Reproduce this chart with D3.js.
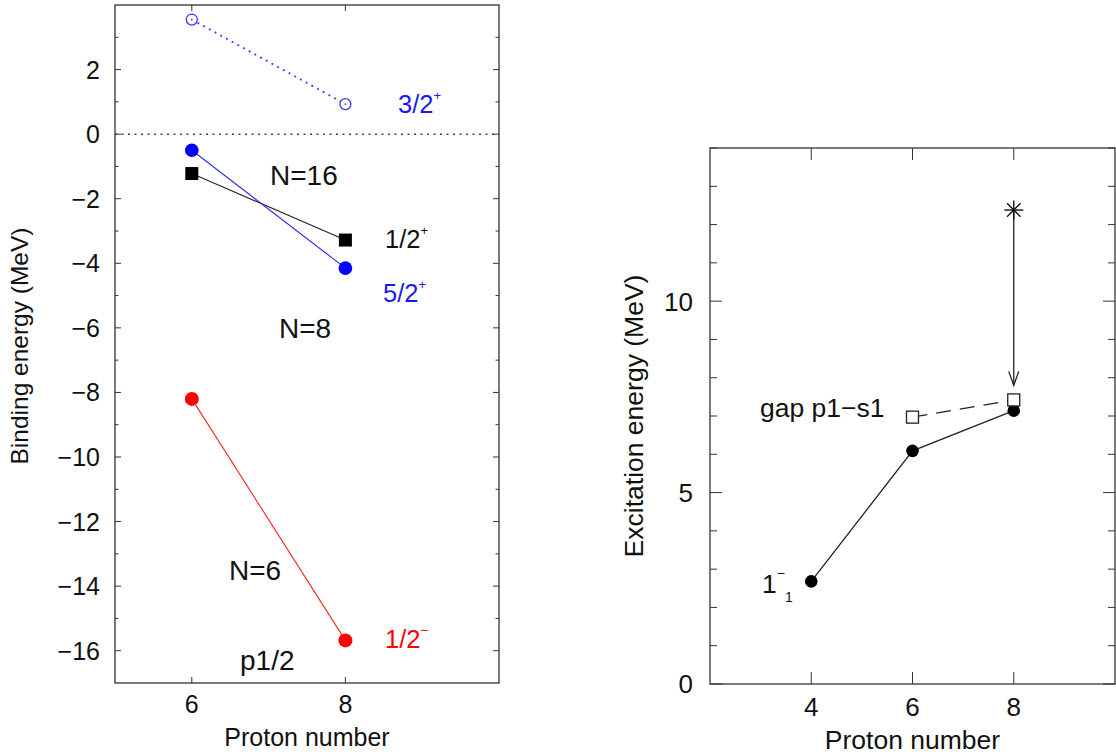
<!DOCTYPE html>
<html>
<head>
<meta charset="utf-8">
<script src="https://cdn.jsdelivr.net/npm/d3@7"></script>
<style>
  html, body { margin: 0; padding: 0; background: #fff; }
  svg { display: block; font-family: "Liberation Sans", Arial, sans-serif; }
</style>
</head>
<body>
<svg id="chart" width="1116" height="755"></svg>
<script>
// ---- Left panel: single-particle binding energies ----
const protonsLeft = [6, 8];
const state32plus = [3.55, 0.93];    // 3/2+ (open circles, dotted)
const state52plus = [-0.5, -4.15];   // 5/2+ (blue filled circles)
const state12plus = [-1.22, -3.28];  // 1/2+ (black squares)
const state12minus = [-8.2, -15.68]; // 1/2- (red filled circles)
const leftYTicks = [-16, -14, -12, -10, -8, -6, -4, -2, 0, 2];
const leftXTicks = [6, 8];

// ---- Right panel: excitation energies ----
const protonsRight = [4, 6, 8];
const excit1minus = [2.68, 6.09, 7.14];
const gapProtons = [6, 8];
const gapP1S1 = [6.97, 7.42];
const starPoint = { x: 8, y: 12.38 };
const arrowEnd = 7.8;
const rightYTicks = [0, 5, 10];
const rightXTicks = [4, 6, 8];

const svg = d3.select("#chart");
const frameColor = "#333";
const textColor = "#111";

function frame(g, x, y) {
  const [x0, x1] = x.range(), [y0, y1] = y.range();
  g.append("rect").attr("x", x0).attr("y", y1).attr("width", x1 - x0).attr("height", y0 - y1)
    .attr("fill", "none").attr("stroke", frameColor).attr("stroke-width", 1.3);
}

function ticks(g, x, y, opt) {
  const [x0, x1] = x.range(), [y0, y1] = y.range();
  opt.yMinor.forEach(v => {
    const len = opt.yMajor.includes(v) ? opt.majLen : opt.minLen;
    g.append("line").attr("x1", x0).attr("x2", x0 + len).attr("y1", y(v)).attr("y2", y(v)).attr("stroke", frameColor);
    g.append("line").attr("x1", x1).attr("x2", x1 - len).attr("y1", y(v)).attr("y2", y(v)).attr("stroke", frameColor);
  });
  opt.xt.forEach(v => {
    g.append("line").attr("x1", x(v)).attr("x2", x(v)).attr("y1", y0).attr("y2", y0 - opt.majLen).attr("stroke", frameColor);
    g.append("line").attr("x1", x(v)).attr("x2", x(v)).attr("y1", y1).attr("y2", y1 + opt.majLen).attr("stroke", frameColor);
  });
  opt.yMajor.forEach(v => {
    g.append("text").attr("x", x0 - opt.yGap).attr("y", y(v)).attr("dy", "0.36em").attr("text-anchor", "end")
      .attr("font-size", opt.font).attr("fill", textColor).text(v < 0 ? "\u2212" + Math.abs(v) : String(v));
  });
  opt.xt.forEach(v => {
    g.append("text").attr("x", x(v)).attr("y", y0 + opt.xGap).attr("text-anchor", "middle")
      .attr("font-size", opt.font).attr("fill", textColor).text(String(v));
  });
}

function label(g, x, y, main, size, color, sup, sub) {
  const t = g.append("text").attr("x", x).attr("y", y).attr("font-size", size).attr("fill", color);
  t.append("tspan").text(main);
  if (sup) t.append("tspan").attr("dy", sup.dy).attr("font-size", sup.size).text(sup.text);
  if (sub) t.append("tspan").attr("dy", sub.dy).attr("font-size", sub.size).text(sub.text);
  return t;
}

// ===== Left panel =====
{
  const x = d3.scaleLinear().domain([5, 10]).range([115, 499]);
  const y = d3.scaleLinear().domain([-17, 4]).range([683, 5]);
  const g = svg.append("g");
  const line = d3.line().x(d => x(d[0])).y(d => y(d[1]));
  const pts = vals => protonsLeft.map((p, i) => [p, vals[i]]);

  // zero reference
  g.append("line").attr("x1", x(5)).attr("x2", x(10)).attr("y1", y(0)).attr("y2", y(0))
    .attr("stroke", "#444").attr("stroke-width", 1.5).attr("stroke-dasharray", "2,4.5");

  // 3/2+
  g.append("path").attr("d", line(pts(state32plus))).attr("fill", "none")
    .attr("stroke", "#4040f0").attr("stroke-width", 1.8).attr("stroke-dasharray", "2,4.5");
  pts(state32plus).forEach(d => {
    g.append("circle").attr("cx", x(d[0])).attr("cy", y(d[1])).attr("r", 5.5)
      .attr("fill", "#fff").attr("stroke", "#3a3af0").attr("stroke-width", 1.3);
    g.append("circle").attr("cx", x(d[0])).attr("cy", y(d[1])).attr("r", 0.9).attr("fill", "#3a3af0");
  });

  // 1/2+
  g.append("path").attr("d", line(pts(state12plus))).attr("fill", "none").attr("stroke", "#222").attr("stroke-width", 1.1);
  pts(state12plus).forEach(d => {
    g.append("rect").attr("x", x(d[0]) - 6.5).attr("y", y(d[1]) - 6.5).attr("width", 13).attr("height", 13).attr("fill", "#000");
  });

  // 5/2+
  g.append("path").attr("d", line(pts(state52plus))).attr("fill", "none").attr("stroke", "#2a2af0").attr("stroke-width", 1.1);
  pts(state52plus).forEach(d => {
    g.append("circle").attr("cx", x(d[0])).attr("cy", y(d[1])).attr("r", 6.8).attr("fill", "#0000ff");
  });

  // 1/2-
  g.append("path").attr("d", line(pts(state12minus))).attr("fill", "none").attr("stroke", "#ff2020").attr("stroke-width", 1.1);
  pts(state12minus).forEach(d => {
    g.append("circle").attr("cx", x(d[0])).attr("cy", y(d[1])).attr("r", 7).attr("fill", "#ff0000");
  });

  frame(g, x, y);
  ticks(g, x, y, { xt: leftXTicks, yMinor: d3.range(-16, 4, 1), yMajor: leftYTicks,
                   majLen: 6, minLen: 3.5, font: 25, yGap: 15, xGap: 30 });

  const supP = { text: "+", size: 13, dy: -13 };
  const supM = { text: "\u2212", size: 13, dy: -13 };
  label(g, 398, 113, "3/2", 25.5, "#1a1aee", supP);
  label(g, 270, 185, "N=16", 28, textColor);
  label(g, 385, 248, "1/2", 25.5, textColor, supP);
  label(g, 383, 302, "5/2", 25.5, "#1a1aee", supP);
  label(g, 279, 338, "N=8", 28, textColor);
  label(g, 229, 580, "N=6", 28, textColor);
  label(g, 385, 648, "1/2", 25.5, "#ff0000", supM);
  label(g, 240, 670, "p1/2", 28, textColor);

  g.append("text").attr("x", x(7.5)).attr("y", 746).attr("text-anchor", "middle")
    .attr("font-size", 25).attr("fill", textColor).text("Proton number");
  g.append("text").attr("transform", `translate(28,346) rotate(-90)`).attr("text-anchor", "middle")
    .attr("font-size", 24.5).attr("fill", textColor).text("Binding energy (MeV)");
}

// ===== Right panel =====
{
  const x = d3.scaleLinear().domain([2, 10]).range([710, 1115]);
  const y = d3.scaleLinear().domain([0, 14]).range([684, 148]);
  const g = svg.append("g");
  const line = d3.line().x(d => x(d[0])).y(d => y(d[1]));

  // gap p1-s1 (dashed, open squares)
  const gapPts = gapProtons.map((p, i) => [p, gapP1S1[i]]);
  g.append("path").attr("d", line(gapPts)).attr("fill", "none").attr("stroke", "#222")
    .attr("stroke-width", 1.2).attr("stroke-dasharray", "15,9");

  // 1- excitation (solid, filled circles)
  const exPts = protonsRight.map((p, i) => [p, excit1minus[i]]);
  g.append("path").attr("d", line(exPts)).attr("fill", "none").attr("stroke", "#222").attr("stroke-width", 1.3);
  exPts.forEach(d => {
    g.append("circle").attr("cx", x(d[0])).attr("cy", y(d[1])).attr("r", 6.3).attr("fill", "#000");
  });
  gapPts.forEach(d => {
    g.append("rect").attr("x", x(d[0]) - 6).attr("y", y(d[1]) - 6).attr("width", 12).attr("height", 12)
      .attr("fill", "#fff").attr("stroke", "#222").attr("stroke-width", 1.3);
  });

  // arrow from the star down to the gap
  const sx = x(starPoint.x), sy = y(starPoint.y), ey = y(arrowEnd);
  g.append("line").attr("x1", sx).attr("x2", sx).attr("y1", sy).attr("y2", ey).attr("stroke", "#222").attr("stroke-width", 1.3);
  g.append("path").attr("d", `M${sx - 5},${ey - 14} L${sx},${ey} L${sx + 5},${ey - 14}`)
    .attr("fill", "none").attr("stroke", "#222").attr("stroke-width", 1.3);
  // eight-armed star marker
  const arm = 9.5;
  [0, 45, 90, 135].forEach(a => {
    const r = a * Math.PI / 180;
    g.append("line").attr("x1", sx - arm * Math.cos(r)).attr("y1", sy - arm * Math.sin(r))
      .attr("x2", sx + arm * Math.cos(r)).attr("y2", sy + arm * Math.sin(r))
      .attr("stroke", "#111").attr("stroke-width", 1.4);
  });

  frame(g, x, y);
  ticks(g, x, y, { xt: rightXTicks, yMinor: d3.range(0, 15, 1), yMajor: rightYTicks,
                   majLen: 12, minLen: 7, font: 26, yGap: 17, xGap: 32 });

  label(g, 760, 417, "gap p1\u2212s1", 26.5, textColor);
  label(g, 762, 593, "1", 26.5, textColor, { text: "\u2212", size: 14, dy: -15 }, { text: "1", size: 14, dy: 24 });

  g.append("text").attr("x", x(6)).attr("y", 749).attr("text-anchor", "middle")
    .attr("font-size", 26.5).attr("fill", textColor).text("Proton number");
  g.append("text").attr("transform", `translate(643,416) rotate(-90)`).attr("text-anchor", "middle")
    .attr("font-size", 26.5).attr("fill", textColor).text("Excitation energy (MeV)");
}
</script>
</body>
</html>
